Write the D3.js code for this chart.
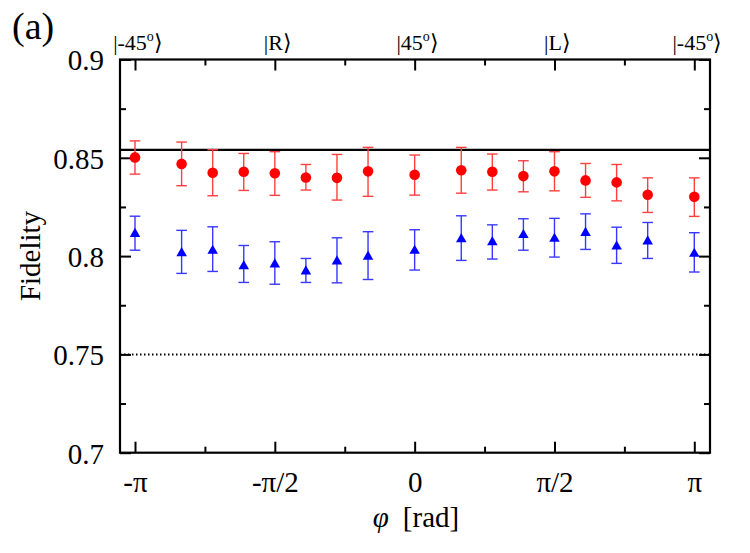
<!DOCTYPE html>
<html>
<head>
<meta charset="utf-8">
<script src="https://cdn.jsdelivr.net/npm/d3@7"></script>
<style>
  body { margin: 0; background: #fff; }
  svg { display: block; }
  text, tspan { font-family: 'Liberation Serif' !important; }
</style>
</head>
<body>
<svg id="chart" width="750" height="553" font-family="Liberation Serif"></svg>
<script>
const fontFamily = "Liberation Serif";

// measured phase angles (degrees), converted to rad for the scale
const phiDeg = [-180, -150, -130, -110, -90, -70, -50, -30, 0, 30, 50, 70, 90, 110, 130, 150, 180];

// red circles
const redFid = [0.8502, 0.8469, 0.8424, 0.8429, 0.8421, 0.8400, 0.8398, 0.8431, 0.8414,
  0.8437, 0.8429, 0.8407, 0.8431, 0.8385, 0.8375, 0.8312, 0.8302];
const redHi = [0.8586, 0.8580, 0.8541, 0.8522, 0.8531, 0.8466, 0.8517, 0.8553, 0.8514,
  0.8553, 0.8519, 0.8485, 0.8531, 0.8471, 0.8466, 0.8398, 0.8398];
const redLo = [0.8417, 0.8358, 0.8307, 0.8334, 0.8309, 0.8336, 0.8285, 0.8304, 0.8310,
  0.8320, 0.8336, 0.8327, 0.8332, 0.8299, 0.8281, 0.8222, 0.8202];

// blue triangles
const blueFid = [0.8113, 0.8015, 0.8027, 0.7949, 0.7958, 0.7922, 0.7973, 0.7997, 0.8027,
  0.8086, 0.8071, 0.8107, 0.8088, 0.8118, 0.8049, 0.8075, 0.8012];
const blueHi = [0.8203, 0.8131, 0.8149, 0.8054, 0.8073, 0.7988, 0.8093, 0.8124, 0.8134,
  0.8205, 0.8159, 0.8190, 0.8192, 0.8215, 0.8147, 0.8171, 0.8119];
const blueLo = [0.8030, 0.7912, 0.7922, 0.7866, 0.7857, 0.7866, 0.7864, 0.7881, 0.7929,
  0.7978, 0.7985, 0.8030, 0.7995, 0.8034, 0.7963, 0.7988, 0.7919];

// reference lines
const solidLevel = 0.854;
const dottedLevel = 0.75;

// axis ticks
const xMajorTicks = [-Math.PI, -Math.PI / 2, 0, Math.PI / 2, Math.PI];
const xTickLabels = ["-π", "-π/2", "0", "π/2", "π"];
const xMinorTicks = [-3 * Math.PI / 4, -Math.PI / 4, Math.PI / 4, 3 * Math.PI / 4];
const yMajorTicks = [0.7, 0.75, 0.8, 0.85, 0.9];
const yMinorTicks = [0.725, 0.775, 0.825, 0.875];

// polarisation state labels along the top
const stateLabels = ["|-45", "|R", "|45", "|L", "|-45"];
const stateSup = ["o", "", "o", "", "o"];

const frame = { left: 120, right: 710, top: 59.5, bottom: 452.7 };

const svg = d3.select("#chart");

const x = d3.scaleLinear()
  .domain([-Math.PI, Math.PI])
  .range([135, 694.3]);
const y = d3.scaleLinear()
  .domain([0.7, 0.9])
  .range([frame.bottom, frame.top]);

const toRad = (d) => (d * Math.PI) / 180;

function styleAxis(g) {
  g.select(".domain").remove();
  g.attr("font-family", fontFamily);
  g.selectAll(".tick line").attr("stroke", "#000").attr("stroke-width", 2);
  g.selectAll(".tick text")
    .attr("font-size", 29)
    .attr("fill", "#000");
}

// bottom axis
svg.append("g")
  .attr("transform", `translate(0,${frame.bottom})`)
  .call(d3.axisBottom(x).tickValues(xMajorTicks).tickSize(-11).tickPadding(19)
    .tickFormat((d, i) => xTickLabels[i]))
  .call(styleAxis);
svg.append("g")
  .attr("transform", `translate(0,${frame.bottom})`)
  .call(d3.axisBottom(x).tickValues(xMinorTicks).tickSize(-6).tickFormat(""))
  .call(styleAxis);

// top axis (mirrored ticks)
svg.append("g")
  .attr("transform", `translate(0,${frame.top})`)
  .call(d3.axisTop(x).tickValues(xMajorTicks).tickSize(-11).tickFormat(""))
  .call(styleAxis);
svg.append("g")
  .attr("transform", `translate(0,${frame.top})`)
  .call(d3.axisTop(x).tickValues(xMinorTicks).tickSize(-6).tickFormat(""))
  .call(styleAxis);

// left axis
svg.append("g")
  .attr("transform", `translate(${frame.left},0)`)
  .call(d3.axisLeft(y).tickValues(yMajorTicks).tickSize(-11).tickPadding(16)
    .tickFormat((d) => String(+d.toFixed(2))))
  .call(styleAxis)
  .call((g) => g.selectAll(".tick text").attr("dy", "0.36em"));
svg.append("g")
  .attr("transform", `translate(${frame.left},0)`)
  .call(d3.axisLeft(y).tickValues(yMinorTicks).tickSize(-6).tickFormat(""))
  .call(styleAxis);

// right axis (mirrored ticks)
svg.append("g")
  .attr("transform", `translate(${frame.right},0)`)
  .call(d3.axisRight(y).tickValues(yMajorTicks).tickSize(-11).tickFormat(""))
  .call(styleAxis);
svg.append("g")
  .attr("transform", `translate(${frame.right},0)`)
  .call(d3.axisRight(y).tickValues(yMinorTicks).tickSize(-6).tickFormat(""))
  .call(styleAxis);

// reference lines
svg.append("line")
  .attr("x1", frame.left).attr("x2", frame.right)
  .attr("y1", y(solidLevel)).attr("y2", y(solidLevel))
  .attr("stroke", "#000").attr("stroke-width", 2.2);
svg.append("line")
  .attr("x1", frame.left).attr("x2", frame.right)
  .attr("y1", y(dottedLevel)).attr("y2", y(dottedLevel))
  .attr("stroke", "#000").attr("stroke-width", 2)
  .attr("stroke-dasharray", "1.5,2.5");

// frame
svg.append("rect")
  .attr("x", frame.left).attr("y", frame.top)
  .attr("width", frame.right - frame.left)
  .attr("height", frame.bottom - frame.top)
  .attr("fill", "none")
  .attr("stroke", "#000")
  .attr("stroke-width", 2.2);

function renderSeries(values, hi, lo, color, barColor, symbol, size) {
  const data = phiDeg.map((p, i) => ({ phi: toRad(p), v: values[i], hi: hi[i], lo: lo[i] }));
  const capHalf = 5.3;
  const g = svg.append("g");
  const bars = g.selectAll(".err")
    .data(data)
    .enter()
    .append("g")
    .attr("stroke", barColor)
    .attr("stroke-width", 1.4);
  bars.append("line")
    .attr("x1", (d) => x(d.phi)).attr("x2", (d) => x(d.phi))
    .attr("y1", (d) => y(d.hi)).attr("y2", (d) => y(d.lo));
  bars.append("line")
    .attr("x1", (d) => x(d.phi) - capHalf).attr("x2", (d) => x(d.phi) + capHalf)
    .attr("y1", (d) => y(d.hi)).attr("y2", (d) => y(d.hi));
  bars.append("line")
    .attr("x1", (d) => x(d.phi) - capHalf).attr("x2", (d) => x(d.phi) + capHalf)
    .attr("y1", (d) => y(d.lo)).attr("y2", (d) => y(d.lo));

  g.selectAll(".pt")
    .data(data)
    .enter()
    .append("path")
    .attr("d", d3.symbol().type(symbol).size(size))
    .attr("transform", (d) => `translate(${x(d.phi)},${y(d.v)})`)
    .attr("fill", color);
}

renderSeries(redFid, redHi, redLo, "#ff0000", "#ff4040", d3.symbolCircle, 88);
renderSeries(blueFid, blueHi, blueLo, "#0000ff", "#3838ff", d3.symbolTriangle, 48);

// state labels along top
const stateGroup = svg.append("g")
  .attr("font-size", 22)
  .attr("text-anchor", "middle");
stateGroup.selectAll("text")
  .data(xMajorTicks)
  .enter()
  .append("text")
  .attr("x", (d) => x(d) + 3)
  .attr("y", 50)
  .each(function (d, i) {
    const t = d3.select(this);
    t.append("tspan").text(stateLabels[i]);
    if (stateSup[i]) {
      t.append("tspan").attr("font-size", 14).attr("dy", -9).text(stateSup[i]);
      t.append("tspan").attr("dy", 9).text("⟩");
    } else {
      t.append("tspan").text("⟩");
    }
  });

// axis titles
svg.append("text")
  .attr("x", 416)
  .attr("y", 527)
  .attr("font-size", 29)
  .attr("text-anchor", "middle")
  .call((t) => {
    t.append("tspan").attr("font-style", "italic").text("φ");
    t.append("tspan").attr("dx", 14).text("[rad]");
  });

svg.append("text")
  .attr("transform", `translate(40,256) rotate(-90)`)
  .attr("font-size", 29)
  .attr("text-anchor", "middle")
  .text("Fidelity");

svg.append("text")
  .attr("x", 12)
  .attr("y", 39)
  .attr("font-size", 38)
  .text("(a)");

svg.selectAll("text").attr("font-family", fontFamily).style("font-family", `'${fontFamily}'`);
</script>
</body>
</html>
